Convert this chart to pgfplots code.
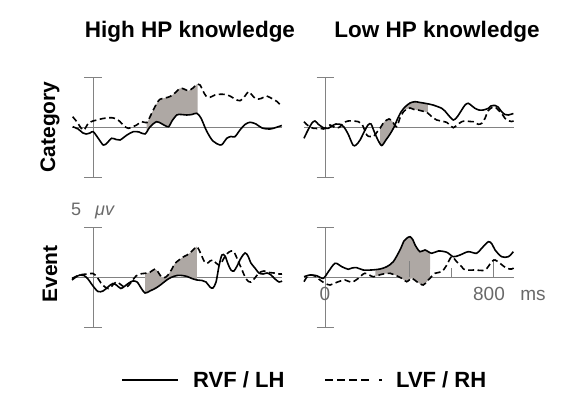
\documentclass[border=0pt]{standalone}
\usepackage{pgfplots}
\usepackage{pgfplotstable}
\pgfplotsset{compat=1.18}
\usepgfplotslibrary{fillbetween}
\usepackage{fontspec}
\setmainfont{Liberation Sans}
\definecolor{shade}{RGB}{174,168,164}
\definecolor{axgray}{RGB}{130,130,130}
\definecolor{txtgray}{RGB}{105,105,105}

\pgfplotstableread[row sep=\\]{t v\\
-97 0.03\\ -71 -0.2\\ -48 -0.6\\ -33 -0.7\\ -14 -0.6\\ 1 -0.47\\ 24 -1.1\\ 49 -1.8\\ 67 -1.6\\ 89 -1.13\\ 110 -1.25\\ 129 -1.3\\ 162 -0.8\\ 192 -0.47\\ 219 -0.5\\ 248 -0.7\\ 271 0\\ 303 0.53\\ 329 0.3\\ 359 0.03\\ 376 0.6\\ 399 1.2\\ 419 1.25\\ 446 1.2\\ 471 1.25\\ 494 1.37\\ 514 0.9\\ 541 -0.4\\ 571 -1.4\\ 605 -1.8\\ 619 -1.65\\ 637 -1.13\\ 657 -0.95\\ 676 -0.97\\ 700 -0.3\\ 724 0.25\\ 748 0.47\\ 776 0.3\\ 805 -0.1\\ 843 -0.2\\ 871 -0.05\\ 899 0.15\\
}\catHighRVF
\pgfplotstableread[row sep=\\]{t v\\
-97 1.03\\ -76 0.5\\ -57 -0.1\\ -43 -0.3\\ -22 0.37\\ 0 0.6\\ 18 0.7\\ 48 0.85\\ 89 0.93\\ 110 0.8\\ 129 0.53\\ 148 0.1\\ 168 -0.13\\ 186 0\\ 208 0.2\\ 232 0.53\\ 256 0.43\\ 271 1.0\\ 287 1.7\\ 305 2.4\\ 319 2.77\\ 343 2.9\\ 367 3.05\\ 390 3.4\\ 414 3.87\\ 433 3.8\\ 454 3.63\\ 476 3.9\\ 497 4.3\\ 510 4.2\\ 524 3.6\\ 538 3.1\\ 557 2.97\\ 581 3.2\\ 605 3.27\\ 629 3.25\\ 652 3.1\\ 676 2.8\\ 700 2.63\\ 724 3.1\\ 740 3.53\\ 757 3.2\\ 776 2.8\\ 800 2.85\\ 827 3.1\\ 843 2.95\\ 859 2.77\\ 876 2.55\\ 890 2.27\\ 900 2.15\\
}\catHighLVF
\pgfplotstableread[row sep=\\]{t v\\
-100 -1.13\\ -81 -0.3\\ -63 0.37\\ -48 0.6\\ -33 0.3\\ -16 0.03\\ 0 -0.15\\ 16 -0.13\\ 33 0.1\\ 52 0.3\\ 71 0.27\\ 90 0\\ 110 -0.7\\ 133 -1.8\\ 148 -1.8\\ 167 -1.3\\ 186 -0.5\\ 205 0.2\\ 219 0.3\\ 233 -0.4\\ 252 -1.3\\ 270 -1.85\\ 290 -1.3\\ 310 -0.7\\ 329 0\\ 343 0.7\\ 362 1.5\\ 381 2.0\\ 405 2.4\\ 429 2.53\\ 452 2.45\\ 476 2.37\\ 514 2.2\\ 556 1.87\\ 571 1.6\\ 587 1.2\\ 611 0.7\\ 629 1.0\\ 651 1.7\\ 667 2.2\\ 682 2.37\\ 700 2.1\\ 714 1.87\\ 733 1.7\\ 754 1.7\\ 778 1.87\\ 790 2.1\\ 810 2.15\\ 824 2.0\\ 841 1.53\\ 857 1.25\\ 873 1.2\\ 897 1.35\\
}\catLowRVF
\pgfplotstableread[row sep=\\]{t v\\
-100 0.53\\ -90 0.3\\ -71 0\\ -56 -0.13\\ -38 -0.15\\ -24 -0.13\\ -8 -0.2\\ 8 0\\ 24 0.2\\ 40 0.03\\ 52 -0.1\\ 71 0\\ 87 0.4\\ 110 0.6\\ 133 0.6\\ 159 0.53\\ 176 0.3\\ 199 -0.8\\ 214 -0.95\\ 230 -0.97\\ 248 -0.5\\ 262 -0.13\\ 281 0.5\\ 294 0.7\\ 305 0.8\\ 319 0.6\\ 341 0.03\\ 357 0.9\\ 373 1.5\\ 390 1.8\\ 405 1.9\\ 424 1.75\\ 443 1.7\\ 462 1.6\\ 481 1.5\\ 492 1.35\\ 510 1.0\\ 532 0.7\\ 552 0.6\\ 579 0.47\\ 595 0.2\\ 611 -0.07\\ 629 0.2\\ 651 0.53\\ 671 0.6\\ 690 0.55\\ 706 0.53\\ 730 0.27\\ 748 0.4\\ 762 0.87\\ 776 1.6\\ 794 1.93\\ 810 2.0\\ 825 1.7\\ 843 1.3\\ 857 0.87\\ 871 0.65\\ 889 0.55\\ 898 0.6\\
}\catLowLVF
\pgfplotstableread[row sep=\\]{t v\\
-100 -0.3\\ -81 0\\ -62 0.2\\ -43 0.15\\ -24 -0.2\\ 0 -0.9\\ 24 -1.45\\ 48 -1.4\\ 71 -1.0\\ 95 -0.65\\ 114 -0.85\\ 133 -1.15\\ 152 -0.9\\ 171 -0.6\\ 190 -0.4\\ 210 -0.5\\ 229 -1.1\\ 248 -1.6\\ 271 -1.4\\ 300 -1.1\\ 324 -0.75\\ 348 -0.35\\ 371 -0.05\\ 400 0.15\\ 424 0.15\\ 448 0.05\\ 471 -0.15\\ 495 -0.3\\ 519 -0.35\\ 538 -0.5\\ 557 -1.0\\ 571 -1.1\\ 586 -0.5\\ 600 1.1\\ 614 2.2\\ 629 2.1\\ 643 1.3\\ 657 0.7\\ 671 0.6\\ 686 1.1\\ 705 1.9\\ 724 2.4\\ 738 2.1\\ 752 1.4\\ 771 0.9\\ 790 0.4\\ 810 0.3\\ 829 0.4\\ 848 0.2\\ 867 -0.2\\ 886 -0.5\\ 900 -0.4\\
}\evtHighRVF
\pgfplotstableread[row sep=\\]{t v\\
-100 -0.15\\ -76 0.1\\ -52 0.25\\ -24 0.3\\ 0 0.35\\ 19 0\\ 38 -0.6\\ 57 -1.0\\ 74 -1.15\\ 90 -0.9\\ 110 -0.5\\ 129 -0.7\\ 148 -1.0\\ 167 -0.9\\ 186 -0.4\\ 205 0.1\\ 224 0.3\\ 248 0.37\\ 271 0.47\\ 295 0.8\\ 310 0.5\\ 324 0.05\\ 343 -0.05\\ 357 0.2\\ 376 0.8\\ 390 1.35\\ 410 1.7\\ 429 2.0\\ 448 2.2\\ 462 2.4\\ 481 2.8\\ 494 3.03\\ 505 2.7\\ 518 2.1\\ 529 1.6\\ 543 1.35\\ 557 1.6\\ 571 1.7\\ 586 1.4\\ 600 1.2\\ 614 1.5\\ 629 2.1\\ 648 2.5\\ 667 2.6\\ 681 2.1\\ 695 1.4\\ 710 0.7\\ 724 0\\ 738 -0.4\\ 752 -0.5\\ 771 -0.1\\ 790 0.4\\ 814 0.6\\ 838 0.45\\ 862 0.4\\ 886 0.3\\ 900 0.3\\
}\evtHighLVF
\pgfplotstableread[row sep=\\]{t v\\
-100 0.03\\ -71 0.2\\ -40 0.13\\ -8 -0.13\\ 16 0.53\\ 48 1.37\\ 80 1.03\\ 111 0.77\\ 129 0.9\\ 151 0.93\\ 182 0.7\\ 222 0.7\\ 262 0.8\\ 294 1.03\\ 325 1.53\\ 357 2.7\\ 376 3.6\\ 389 3.87\\ 405 4.03\\ 419 3.7\\ 429 3.2\\ 452 2.53\\ 476 2.7\\ 508 2.37\\ 540 2.6\\ 580 2.47\\ 611 2.03\\ 643 2.2\\ 682 2.53\\ 722 2.37\\ 746 2.87\\ 778 3.53\\ 795 3.3\\ 810 2.7\\ 841 2.03\\ 873 2.03\\ 897 2.53\\
}\evtLowRVF
\pgfplotstableread[row sep=\\]{t v\\
-100 -0.47\\ -86 0\\ -71 0.2\\ -48 0.1\\ -24 -0.3\\ 0 -0.63\\ 24 -0.8\\ 56 -0.53\\ 95 -0.3\\ 127 -0.53\\ 159 -0.13\\ 190 0.37\\ 230 0.03\\ 270 0.27\\ 310 0.37\\ 333 0.2\\ 365 -0.13\\ 389 -0.47\\ 413 -0.13\\ 437 -0.47\\ 468 -0.8\\ 492 -0.3\\ 524 0.37\\ 556 0.53\\ 580 1.2\\ 603 2.03\\ 627 1.53\\ 651 1.03\\ 667 0.7\\ 714 0.7\\ 762 0.7\\ 794 1.53\\ 810 1.7\\ 833 1.37\\ 865 0.87\\ 889 0.8\\ 898 0.9\\
}\evtLowLVF

\pgfplotsset{
  erp/.style={scale only axis, width=210pt, height=100pt,
    xmin=-100, xmax=900, ymin=-5, ymax=5,
    axis lines=middle, axis line style={-, draw=axgray, line width=0.7pt},
    xtick=\empty, ytick={-5,5}, yticklabels={},
    tick align=center, major tick length=17pt,
    tick style={draw=axgray, line width=0.7pt},
    clip=false, anchor=south west},
  sol/.style={black, line width=1.6pt, smooth, tension=0.5},
  das/.style={black, line width=1.6pt, smooth, tension=0.5, dash pattern=on 6pt off 3.5pt},
  hid/.style={draw=none, smooth, tension=0.5},
  shd/.style={fill=shade, draw=none}
}
\begin{document}
\begin{tikzpicture}[x=1pt,y=1pt]
\path (0,0) rectangle (578,409);

% ---------- Top-left: Category, High HP ----------
\begin{axis}[erp, at={(72pt,232pt)}]
\addplot[hid, name path=S] table {\catHighRVF};
\addplot[hid, name path=D] table {\catHighLVF};
\addplot[shd] fill between[of=S and D, soft clip={domain=255:498}];
\addplot[sol] table {\catHighRVF};
\addplot[das] table {\catHighLVF};
\end{axis}

% ---------- Top-right: Category, Low HP ----------
\begin{axis}[erp, at={(304pt,232pt)}]
\addplot[hid, name path=S] table {\catLowRVF};
\addplot[hid, name path=D] table {\catLowLVF};
\addplot[shd] fill between[of=S and D, soft clip={domain=262:333}];
\addplot[shd] fill between[of=S and D, soft clip={domain=381:490}];
\addplot[sol] table {\catLowRVF};
\addplot[das] table {\catLowLVF};
\end{axis}

% ---------- Bottom-left: Event, High HP ----------
\begin{axis}[erp, at={(72pt,82pt)}]
\addplot[hid, name path=S] table {\evtHighRVF};
\addplot[hid, name path=D] table {\evtHighLVF};
\addplot[shd] fill between[of=S and D, soft clip={domain=248:495}];
\addplot[sol] table {\evtHighRVF};
\addplot[das] table {\evtHighLVF};
\end{axis}

% ---------- Bottom-right: Event, Low HP ----------
\begin{axis}[erp, at={(304pt,82pt)}]
\addplot[hid, name path=S] table {\evtLowRVF};
\addplot[hid, name path=D] table {\evtLowLVF};
\addplot[shd] fill between[of=S and D, soft clip={domain=240:500}];
\draw[axgray, line width=0.7pt] (axis cs:400,0) -- (axis cs:400,1.6);
\draw[axgray, line width=0.7pt] (axis cs:600,0) -- (axis cs:600,0.9);
\draw[axgray, line width=0.7pt] (axis cs:800,0) -- (axis cs:800,1.8);
\addplot[sol] table {\evtLowRVF};
\addplot[das] table {\evtLowLVF};
\end{axis}

% ---------- Texts ----------
\node[anchor=base, font=\fontsize{22.5}{26}\selectfont\bfseries] at (190,371) {High HP knowledge};
\node[anchor=base, font=\fontsize{22.5}{26}\selectfont\bfseries] at (437,371) {Low HP knowledge};
\node[rotate=90, font=\fontsize{21}{24}\selectfont\bfseries] at (50,282) {Category};
\node[rotate=90, font=\fontsize{21}{24}\selectfont\bfseries] at (50,135) {Event};
\node[anchor=base west, inner sep=0pt, text=txtgray, font=\fontsize{18}{21}\selectfont] at (71,193) {5};
\node[anchor=base west, inner sep=0pt, text=txtgray, font=\fontsize{18}{21}\selectfont] at (95,193) {\textit{μv}};
\node[anchor=base, inner sep=0pt, text=txtgray, font=\fontsize{19}{22}\selectfont] at (325,108) {0};
\node[anchor=base, inner sep=0pt, text=txtgray, font=\fontsize{19}{22}\selectfont] at (489,108) {800};
\node[anchor=base, inner sep=0pt, text=txtgray, font=\fontsize{19}{22}\selectfont] at (533,108) {ms};

% ---------- Legend ----------
\draw[black, line width=1.6pt] (122,29) -- (178,29);
\node[anchor=base west, inner sep=0pt, font=\fontsize{22}{26}\selectfont\bfseries] at (193,21) {RVF / LH};
\draw[black, line width=1.6pt, dash pattern=on 8pt off 4pt] (325,29) -- (369,29);
\draw[black, line width=1.6pt] (379,29) -- (382,29);
\node[anchor=base west, inner sep=0pt, font=\fontsize{22}{26}\selectfont\bfseries] at (396,21) {LVF / RH};

\pgfresetboundingbox
\path[use as bounding box] (0,0) rectangle (578,409);
\end{tikzpicture}
\end{document}
